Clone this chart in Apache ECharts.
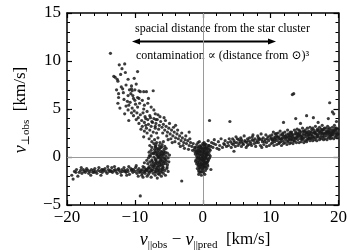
<!DOCTYPE html>
<html><head><meta charset="utf-8">
<script src="https://cdn.jsdelivr.net/npm/echarts@6/dist/echarts.min.js"></script>
<style>html,body{margin:0;padding:0;background:#fff}#c{width:350px;height:250px}</style>
</head><body><div id="c"></div>
<script>
// ---- data ----
var xTicks = [-20, -10, 0, 10, 20];
var yTicks = [-5, 0, 5, 10, 15];
var bandLeft = [[-19.3,-1.9],[-19.1,-2.3],[-18.9,-1.5],[-18.6,-1.3],[-18.4,-2.0],[-18.2,-1.6],[-18.0,-1.4],[-17.8,-1.7],[-17.6,-1.3],[-17.5,-1.5],[-17.3,-1.6],[-17.1,-1.2],[-16.9,-1.4],[-16.8,-1.7],[-16.6,-1.5],[-16.4,-1.3],[-16.2,-1.6],[-16.1,-1.4],[-15.9,-1.2],[-15.8,-1.5],[-15.6,-1.7],[-15.4,-1.4],[-15.3,-1.1],[-15.1,-1.5],[-14.9,-1.3],[-14.8,-1.6],[-14.6,-1.4],[-14.4,-1.2],[-14.3,-1.5],[-14.1,-1.7],[-13.9,-1.3],[-13.8,-1.5],[-13.6,-1.4],[-13.4,-1.1],[-13.3,-1.6],[-13.1,-1.4],[-12.9,-1.3],[-12.8,-1.5],[-12.6,-1.7],[-12.4,-1.2],[-12.3,-1.4],[-12.1,-1.6],[-11.9,-1.3],[-11.8,-1.5],[-11.6,-1.1],[-11.5,-1.4],[-11.3,-1.6],[-11.1,-1.3],[-11.0,-1.5],[-10.8,-1.8],[-10.6,-1.2],[-10.5,-1.4],[-10.3,-1.6],[-10.2,-1.3],[-10.0,-1.5],[-9.9,-1.1],[-9.7,-1.7],[-9.6,-1.4],[-9.4,-1.2],[-9.3,-1.6],[-9.1,-1.4],[-9.0,-1.9],[-8.9,-1.3],[-8.7,-1.5],[-8.6,-1.1],[-8.5,-1.7],[-8.3,-1.4],[-8.2,-2.0],[-8.1,-1.2],[-16.5,-1.9],[-14.0,-1.0],[-12.0,-1.9],[-10.9,-1.0],[-9.5,-2.0],[-17.9,-1.1],[-15.0,-1.9],[-13.0,-1.0],[-11.2,-1.9],[-9.8,-0.9],[-8.8,-2.1],[-18.7,-1.6],[-17.2,-1.4],[-16.0,-1.6],[-14.7,-1.3],[-13.5,-1.5],[-12.5,-1.3],[-11.4,-1.5],[-10.4,-1.3],[-9.2,-1.5],[-8.4,-1.3]];
var clumpLeft = [[-8.0,-1.8],[-7.6,-2.1],[-7.3,-1.7],[-7.0,-1.9],[-6.7,-2.2],[-6.4,-1.8],[-6.1,-2.0],[-5.8,-1.7],[-5.5,-1.9],[-7.8,-1.6],[-6.9,-1.6],[-6.2,-1.6],[-8.3,-1.3],[-8.0,-1.5],[-7.7,-1.2],[-7.5,-1.4],[-7.2,-1.1],[-7.0,-1.5],[-6.8,-1.2],[-6.6,-1.4],[-6.4,-1.0],[-6.2,-1.3],[-6.0,-1.5],[-5.8,-1.1],[-5.6,-1.4],[-5.3,-1.2],[-5.1,-1.5],[-7.9,-1.0],[-7.4,-1.0],[-6.9,-1.3],[-6.5,-1.5],[-5.9,-1.3],[-8.1,-0.7],[-7.8,-0.5],[-7.6,-0.8],[-7.3,-0.6],[-7.1,-0.9],[-6.9,-0.4],[-6.7,-0.7],[-6.5,-0.5],[-6.3,-0.8],[-6.1,-0.6],[-5.9,-0.9],[-5.7,-0.5],[-5.5,-0.7],[-5.2,-0.8],[-5.0,-0.5],[-7.0,-0.7],[-6.6,-0.9],[-6.2,-0.4],[-5.8,-0.7],[-6.4,-0.6],[-8.0,-0.1],[-7.7,0.1],[-7.5,-0.3],[-7.2,0.0],[-7.0,-0.2],[-6.8,0.2],[-6.6,-0.1],[-6.4,0.1],[-6.2,-0.3],[-6.0,0.0],[-5.8,0.2],[-5.6,-0.2],[-5.4,0.1],[-5.1,-0.1],[-4.9,0.2],[-6.9,-0.3],[-6.5,0.0],[-6.1,0.2],[-5.7,-0.1],[-6.3,-0.1],[-7.9,0.5],[-7.6,0.7],[-7.3,0.4],[-7.1,0.8],[-6.9,0.5],[-6.7,0.3],[-6.5,0.7],[-6.3,0.4],[-6.1,0.6],[-5.9,0.3],[-5.7,0.8],[-5.5,0.5],[-5.2,0.4],[-6.8,0.8],[-6.0,0.5],[-6.6,0.5],[-7.8,1.2],[-7.5,1.0],[-7.2,1.4],[-7.0,1.1],[-6.8,1.5],[-6.6,0.9],[-6.4,1.2],[-6.2,1.0],[-6.0,1.3],[-5.8,1.6],[-5.6,1.1],[-5.4,0.9],[-6.9,1.3],[-6.3,1.5],[-8.8,-1.0],[-8.6,-0.6],[-8.5,-1.5],[-8.9,-1.7],[-7.45,-0.45],[-6.75,-1.05],[-6.05,-0.25],[-7.15,0.35],[-5.65,0.35],[-6.45,-1.25],[-7.65,-1.45],[-5.35,-0.45],[-7.85,0.15],[-7.35,-1.35],[-6.85,-0.55],[-6.35,0.85],[-5.95,-1.15],[-5.45,-0.25],[-7.05,0.55],[-6.55,-1.75],[-6.15,-0.85],[-5.75,0.55],[-7.55,0.35],[-6.95,1.05],[-6.25,0.25],[-5.85,-0.45],[-7.25,-0.85],[-6.65,0.15],[-5.25,-1.05],[-8.25,-0.35],[-7.95,-1.15],[-6.05,1.05]];
var armLeft = [[-13.6,10.8],[-11.5,9.7],[-13.1,8.4],[-12.6,8.1],[-12.1,8.6],[-12.9,8.3],[-12.5,7.9],[-11.0,8.1],[-10.5,7.4],[-10.5,7.1],[-10.4,6.9],[-12.4,6.6],[-12.4,6.2],[-12.5,5.6],[-11.1,5.8],[-10.9,5.4],[-11.3,5.3],[-10.2,6.1],[-9.4,6.9],[-9.2,6.8],[-8.3,6.8],[-8.0,6.1],[-9.6,6.2],[-9.4,6.1],[-8.9,5.9],[-9.6,5.2],[-8.7,5.0],[-8.2,4.75],[-7.2,4.9],[-7.0,4.5],[-10.6,6.6],[-10.3,6.4],[-10.0,5.9],[-10.7,5.7],[-10.4,5.1],[-10.1,4.8],[-9.9,5.5],[-9.7,4.6],[-10.2,4.3],[-9.5,4.1],[-9.2,4.4],[-9.0,3.8],[-9.4,3.5],[-8.9,3.2],[-8.6,3.6],[-8.4,4.0],[-8.3,3.0],[-8.0,3.4],[-7.8,2.8],[-8.2,2.5],[-7.6,2.2],[-7.9,1.9],[-7.3,2.6],[-7.1,1.8],[-7.5,1.6],[-8.6,2.7],[-9.8,3.9],[-9.1,2.9],[-8.7,2.1],[-10.5,4.6],[-11.0,4.9],[-11.6,6.0],[-11.8,7.1],[-11.3,7.5],[-12.0,7.3],[-11.7,6.7],[-11.0,6.4],[-10.8,7.0],[-9.8,7.6],[-10.1,8.2],[-8.6,5.4],[-8.1,5.6],[-7.7,4.1],[-7.4,3.6],[-7.0,3.2],[-6.8,2.5],[-6.6,2.0],[-6.9,3.9],[-7.6,5.2],[-8.8,4.6],[-9.3,5.6],[-10.0,7.0],[-12.7,7.0],[-12.2,5.1],[-11.5,4.5],[-10.9,3.8],[-11.9,9.2],[-12.3,9.6],[-9.6,8.9],[-11.4,8.8],[-7.3,6.9],[-8.7,6.8]];
var armRight = [[-8.5,4.2],[-8.1,3.9],[-7.8,4.3],[-7.5,3.7],[-7.2,4.0],[-6.9,3.5],[-6.7,3.9],[-6.4,3.3],[-6.2,3.7],[-6.0,3.1],[-5.8,3.4],[-5.6,2.8],[-5.4,3.2],[-5.2,2.6],[-5.0,3.0],[-4.8,2.4],[-4.6,2.8],[-4.4,2.2],[-4.2,2.6],[-4.0,2.0],[-3.8,2.4],[-3.6,1.9],[-3.4,2.2],[-3.2,1.7],[-3.0,2.0],[-2.8,1.5],[-2.6,1.8],[-2.4,1.4],[-2.2,1.7],[-2.0,1.2],[-1.8,1.5],[-1.6,1.1],[-1.4,1.4],[-1.2,1.0],[-6.5,2.9],[-5.9,2.5],[-5.3,2.2],[-4.7,1.9],[-4.1,1.6],[-3.5,1.4],[-2.9,1.2],[-7.0,3.0],[-6.3,4.2],[-5.5,3.8],[-4.9,3.5],[-4.3,3.1],[-3.7,2.8],[-3.1,2.5],[-2.5,2.2],[-1.9,1.9],[-8.4,3.3],[-7.6,3.2],[-5.1,1.8],[-4.5,1.5],[-3.3,1.1],[-6.6,4.4],[-5.7,4.1],[-4.0,3.3],[-2.7,0.9],[-2.1,0.8],[-1.5,0.7]];
var clumpZero = [[-0.9,1.3],[-0.5,1.6],[-0.2,1.2],[0.2,1.5],[0.5,1.3],[0.8,1.7],[-0.7,1.5],[0.0,1.4],[0.9,1.2],[0.3,1.1],[-1.2,0.8],[-1.0,1.0],[-0.8,0.7],[-0.6,0.9],[-0.4,0.6],[-0.2,1.0],[0.0,0.8],[0.2,0.6],[0.4,0.9],[0.6,0.7],[0.8,1.0],[1.0,0.8],[-0.3,0.8],[0.5,1.0],[-0.9,0.6],[0.1,0.9],[0.7,0.5],[1.2,1.1],[-1.1,0.3],[-0.9,0.1],[-0.7,0.4],[-0.5,0.2],[-0.3,0.5],[-0.1,0.0],[0.1,0.3],[0.3,0.1],[0.5,0.4],[0.7,0.2],[0.9,0.5],[1.1,0.1],[-0.6,0.0],[0.0,0.4],[0.4,0.0],[-0.2,0.2],[0.6,0.3],[-0.8,0.3],[0.2,0.5],[-1.0,-0.3],[-0.8,-0.1],[-0.6,-0.4],[-0.4,-0.2],[-0.2,-0.5],[0.0,-0.1],[0.2,-0.3],[0.4,-0.5],[0.6,-0.2],[0.8,-0.4],[1.0,-0.1],[-0.3,-0.3],[0.1,-0.4],[0.5,-0.1],[-0.7,-0.2],[0.3,-0.2],[-0.1,-0.3],[0.7,-0.5],[-0.9,-0.7],[-0.7,-0.9],[-0.5,-0.6],[-0.3,-0.8],[-0.1,-1.0],[0.1,-0.7],[0.3,-0.9],[0.5,-0.6],[0.7,-0.8],[-0.4,-1.0],[0.0,-0.8],[0.4,-0.7],[-0.6,-0.8],[0.2,-1.0],[-0.8,-1.2],[-0.6,-1.4],[-0.4,-1.2],[-0.2,-1.5],[0.0,-1.3],[0.2,-1.1],[0.4,-1.4],[-0.3,-1.6],[0.1,-1.6],[0.6,-1.2],[-0.5,-1.1],[-0.1,-1.2],[-0.6,-1.8],[-0.2,-1.9],[0.3,-1.8],[-0.5,0.5],[-0.1,0.6],[0.3,0.7],[-0.4,-0.1],[0.0,0.1],[0.4,0.3],[-0.2,-0.7],[0.2,-0.5],[-0.6,0.7],[0.6,-0.6],[-0.85,0.45],[-0.45,1.15],[0.15,1.25],[0.65,0.85],[-1.05,-0.45],[0.85,-0.25],[-0.35,0.25],[0.25,-0.65],[-0.75,-0.55],[0.55,0.15],[-0.15,-0.85],[0.95,0.25],[-1.15,0.55],[0.35,1.35],[-0.55,-1.55],[0.45,-1.05],[-0.25,0.95],[0.05,-0.25],[-0.65,1.05],[0.75,-0.95]];
var bandRight = [[0.9,1.2],[1.1,0.7],[1.3,1.5],[1.5,1.0],[1.7,1.8],[1.9,1.3],[2.1,0.9],[2.3,1.6],[2.5,1.2],[2.7,1.9],[2.9,1.0],[3.1,1.4],[3.3,1.7],[3.5,1.1],[3.7,1.5],[3.9,1.9],[1.6,1.4],[2.4,0.8],[3.2,1.3],[3.8,1.2],[4.1,1.6],[4.2,1.0],[4.4,1.9],[4.5,1.3],[4.6,1.7],[4.8,1.1],[4.9,2.1],[5.0,1.5],[5.2,1.2],[5.3,1.8],[5.4,1.4],[5.6,2.0],[5.7,1.1],[5.8,1.6],[6.0,1.3],[6.1,2.2],[6.2,1.7],[6.4,1.0],[6.5,1.5],[6.6,1.9],[6.8,1.3],[6.9,2.0],[7.0,1.6],[7.2,1.2],[7.3,1.8],[7.4,2.3],[7.6,1.4],[7.7,1.9],[7.8,1.1],[8.0,1.7],[8.1,2.2],[8.2,1.5],[8.4,1.9],[8.5,1.2],[8.6,2.4],[8.8,1.6],[8.9,2.0],[9.0,1.3],[9.2,1.8],[9.3,2.3],[9.4,1.5],[9.6,2.1],[9.7,1.7],[9.8,1.2],[10.0,1.9],[4.3,1.4],[5.1,1.9],[5.9,1.4],[6.7,1.7],[7.5,1.7],[8.3,1.8],[9.1,1.6],[9.9,2.2],[4.7,1.5],[5.5,1.6],[6.3,1.6],[7.1,1.4],[7.9,1.5],[8.7,1.8],[9.5,1.9],[6.6,1.2],[7.3,2.1],[8.2,2.0],[9.4,1.1],[5.7,1.8],
[10.1,1.4],[10.2,2.3],[10.3,1.8],[10.4,2.6],[10.5,1.2],[10.5,2.0],[10.6,1.6],[10.7,2.4],[10.8,1.9],[10.9,1.3],[10.9,2.2],[10.3,1.5],[10.7,2.1],[10.1,2.0],[10.6,1.8],
[11.0,1.7],[11.1,2.5],[11.2,1.4],[11.2,2.1],[11.3,1.9],[11.4,2.7],[11.5,1.6],[11.5,2.3],[11.6,1.2],[11.7,2.0],[11.8,2.5],[11.8,1.7],[11.9,2.2],[11.3,1.5],[11.6,1.9],[11.9,1.4],
[12.0,2.0],[12.1,1.5],[12.1,2.6],[12.2,1.8],[12.3,2.3],[12.4,1.3],[12.4,2.1],[12.5,2.8],[12.6,1.7],[12.6,2.4],[12.7,1.9],[12.8,1.4],[12.8,2.2],[12.9,2.6],[12.9,1.8],[12.3,2.0],[12.5,1.6],[12.7,2.3],
[13.0,2.1],[13.0,1.5],[13.1,2.6],[13.2,1.8],[13.3,2.3],[13.3,1.4],[13.4,2.0],[13.5,2.8],[13.5,1.7],[13.6,2.4],[13.7,1.9],[13.7,2.6],[13.8,1.5],[13.9,2.2],[13.9,2.9],[13.2,2.1],[13.6,2.0],[13.8,2.4],
[14.0,1.8],[14.0,2.5],[14.1,2.1],[14.2,1.5],[14.2,2.8],[14.3,2.3],[14.4,1.9],[14.5,2.6],[14.5,1.6],[14.6,2.2],[14.7,3.0],[14.7,1.8],[14.8,2.4],[14.9,2.0],[14.9,1.5],[14.3,2.7],[14.6,1.9],[14.8,2.7],[14.1,2.3],
[15.0,2.3],[15.1,1.7],[15.1,2.8],[15.2,2.1],[15.3,2.5],[15.3,1.6],[15.4,3.0],[15.5,2.2],[15.5,1.9],[15.6,2.7],[15.7,2.0],[15.7,2.4],[15.8,1.7],[15.8,3.1],[15.9,2.3],[15.2,2.6],[15.4,1.8],[15.6,2.3],[15.9,2.0],
[16.0,2.6],[16.0,1.9],[16.1,2.3],[16.2,3.0],[16.2,1.7],[16.3,2.5],[16.4,2.1],[16.4,2.8],[16.5,1.8],[16.6,2.4],[16.6,3.2],[16.7,2.0],[16.8,2.7],[16.8,1.7],[16.9,2.3],[16.3,2.0],[16.5,2.6],[16.7,2.4],[16.9,2.9],
[17.0,2.1],[17.0,2.8],[17.1,2.4],[17.2,1.8],[17.2,3.1],[17.3,2.6],[17.4,2.2],[17.4,2.9],[17.5,1.9],[17.6,2.5],[17.6,3.3],[17.7,2.1],[17.8,2.8],[17.8,1.8],[17.9,2.4],[17.3,2.0],[17.5,2.7],[17.7,2.4],[17.9,3.0],
[18.0,2.5],[18.0,1.9],[18.1,3.0],[18.2,2.2],[18.2,2.7],[18.3,1.8],[18.4,2.4],[18.4,3.2],[18.5,2.0],[18.6,2.7],[18.6,2.3],[18.7,3.0],[18.8,1.9],[18.8,2.5],[18.9,2.8],[18.3,2.6],[18.5,2.9],[18.7,2.1],[18.9,2.3],
[19.0,2.6],[19.0,2.0],[19.1,3.1],[19.2,2.3],[19.2,2.8],[19.3,1.9],[19.4,2.5],[19.4,3.3],[19.5,2.1],[19.6,2.8],[19.6,2.4],[19.7,3.0],[19.8,2.0],[19.8,2.6],[19.9,2.9],[19.3,2.7],[19.5,3.0],[19.7,2.2],[19.9,2.4],
[10.25,1.75],[10.85,2.45],[11.45,1.85],[11.75,2.35],[12.15,2.15],[12.65,2.05],[13.15,2.35],[13.45,1.65],[13.85,2.05],[14.25,2.45],[14.65,2.05],[14.95,2.65],[15.25,2.35],[15.65,1.95],[15.85,2.55],[16.15,2.15],[16.45,2.55],[16.85,2.15],[17.15,2.65],[17.45,2.45],[17.85,2.15],[18.15,2.45],[18.45,2.65],[18.85,2.25],[19.15,2.55],[19.45,2.75],[19.85,2.35],[12.95,2.45],[14.45,2.15],[16.05,2.85],[17.65,2.85],[19.05,2.35],[18.65,2.55],[15.45,2.55],[13.05,1.85],[11.05,2.05]];
var outliers = [[-3.1,-2.5],[-9.2,-4.05],[1.0,3.8],[4.0,3.7],[13.4,6.6],[13.2,6.5],[18.7,5.65],[11.9,3.6],[13.7,4.0],[15.3,4.3],[16.3,4.1],[18.5,4.0],[19.1,4.7],[8.7,1.0],[4.6,0.6],[1.2,-1.3],[19.7,3.7],[14.4,3.5],[17.0,3.6],[-2.0,2.6],[19.3,4.5]];

var groups = [bandLeft, clumpLeft, armLeft, armRight, clumpZero, bandRight, outliers];

var SERIF = '"Liberation Serif", "DejaVu Serif", serif';
var chart = echarts.init(document.getElementById('c'), null, {renderer: 'canvas'});

function axisCommon(show, margin) {
  return {
    axisLine: {show: true, onZero: false, lineStyle: {color: '#000', width: 1.5}},
    axisTick: {show: true, inside: true, length: 5, lineStyle: {color: '#000', width: 1.2}},
    minorTick: {show: true, splitNumber: 5, length: 3, lineStyle: {color: '#000', width: 1}},
    splitLine: {show: false},
    axisLabel: {show: show, color: '#000', fontFamily: SERIF, fontSize: 17, margin: margin || 6,
      formatter: function (v) { return String(v).replace('-', '\u2212'); }}
  };
}

var series = groups.map(function (g, i) {
  var s = {
    type: 'scatter', data: g, symbolSize: 3.2, xAxisIndex: 0, yAxisIndex: 0,
    itemStyle: {color: '#1a1a1a', opacity: 0.85}, silent: true, animation: false, z: 3
  };
  if (i === 0) {
    s.markLine = {silent: true, symbol: 'none', animation: false, label: {show: false}, z: 1,
      lineStyle: {color: '#9a9a9a', width: 1, type: 'solid'},
      data: [{xAxis: 0}, {yAxis: 0}]};
  }
  return s;
});

var option = {
  backgroundColor: '#fff',
  animation: false,
  grid: {left: 67, right: 8, top: 13, bottom: 45, containLabel: false},
  xAxis: [
    Object.assign({type: 'value', position: 'bottom', min: xTicks[0], max: xTicks[xTicks.length-1], interval: 10}, axisCommon(true, 4)),
    Object.assign({type: 'value', position: 'top', min: xTicks[0], max: xTicks[xTicks.length-1], interval: 10}, axisCommon(false))
  ],
  yAxis: [
    Object.assign({type: 'value', position: 'left', min: yTicks[0], max: yTicks[yTicks.length-1], interval: 5}, axisCommon(true, 6)),
    Object.assign({type: 'value', position: 'right', min: yTicks[0], max: yTicks[yTicks.length-1], interval: 5}, axisCommon(false))
  ],
  series: series,
  graphic: [
    {type: 'text', left: 135, top: 23, style: {text: 'spacial distance from the star cluster', font: '12px ' + SERIF, fill: '#000'}},
    {type: 'line', shape: {x1: 137, y1: 41.5, x2: 271, y2: 41.5}, style: {stroke: '#000', lineWidth: 1.8}},
    {type: 'polygon', shape: {points: [[132, 41.5], [140, 38.5], [140, 44.5]]}, style: {fill: '#000'}},
    {type: 'polygon', shape: {points: [[276, 41.5], [268, 38.5], [268, 44.5]]}, style: {fill: '#000'}},
    {type: 'text', left: 136, top: 50, style: {text: 'contamination \u221d (distance from \u2299)\u00b3', font: '12px ' + SERIF, fill: '#000'}},
    {type: 'text', x: 205, y: 240, style: {
      text: '{v|v}{s|||obs}{n| \u2212 }{v|v}{s|||pred}{n|  [km/s]}',
      align: 'center', verticalAlign: 'middle',
      rich: {
        v: {fontFamily: SERIF, fontStyle: 'italic', fontSize: 18, lineHeight: 22, verticalAlign: 'middle'},
        s: {fontFamily: SERIF, fontSize: 11, lineHeight: 22, verticalAlign: 'bottom'},
        n: {fontFamily: SERIF, fontSize: 17, lineHeight: 22, verticalAlign: 'middle'}
      }}},
    {type: 'text', x: 21, y: 110, rotation: Math.PI / 2, style: {
      text: '{v|v}{s|\u22a5obs}{n|  [km/s]}',
      align: 'center', verticalAlign: 'middle',
      rich: {
        v: {fontFamily: SERIF, fontStyle: 'italic', fontSize: 18, lineHeight: 22, verticalAlign: 'middle'},
        s: {fontFamily: SERIF, fontSize: 11, lineHeight: 22, verticalAlign: 'bottom'},
        n: {fontFamily: SERIF, fontSize: 17, lineHeight: 22, verticalAlign: 'middle'}
      }}}
  ]
};
chart.setOption(option);
</script>
</body></html>
